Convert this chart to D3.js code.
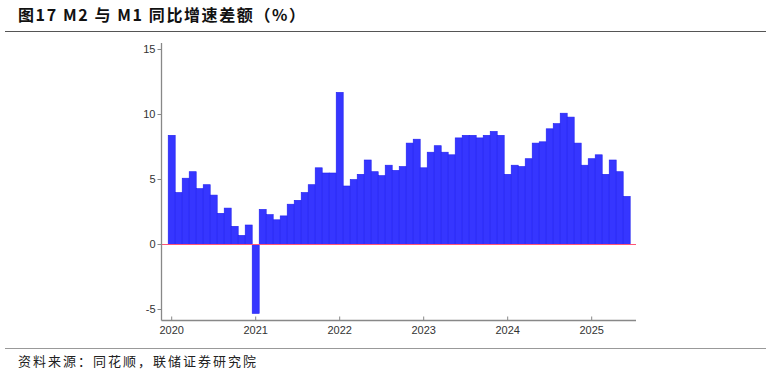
<!DOCTYPE html>
<html>
<head>
<meta charset="utf-8">
<script src="https://cdn.jsdelivr.net/npm/d3@7/dist/d3.min.js"></script>
<style>
    body { margin: 0; background: #fff; }
    svg { display: block; }
    .title { font-family: "Noto Sans CJK SC", sans-serif; font-weight: bold; font-size: 16px; letter-spacing: 1.6px; fill: #111; }
    .source { font-family: "Noto Sans CJK SC", sans-serif; font-size: 13px; letter-spacing: 2px; fill: #222; }
    .tick-label { font-family: "Liberation Sans", Arial, sans-serif; font-size: 11px; fill: #333; }
</style>
</head>
<body>
<svg id="chart" width="771" height="375"></svg>
<script>
// monthly spread M2 yoy minus M1 yoy, 2020-01 .. 2025-06
var years = [2020, 2021, 2022, 2023, 2024, 2025];
var spread = [
    8.4, 4.0, 5.1, 5.6, 4.3, 4.6, 3.8, 2.4, 2.8, 1.4, 0.7, 1.5,
    -5.3, 2.7, 2.3, 1.9, 2.2, 3.1, 3.4, 4.0, 4.6, 5.9, 5.5, 5.5,
    11.7, 4.5, 5.0, 5.4, 6.5, 5.6, 5.3, 6.1, 5.7, 6.0, 7.8, 8.1,
    5.9, 7.1, 7.6, 7.1, 6.9, 8.2, 8.4, 8.4, 8.2, 8.4, 8.7, 8.4,
    5.4, 6.1, 6.0, 6.6, 7.8, 7.9, 8.9, 9.3, 10.1, 9.8, 7.8, 6.1,
    6.6, 6.9, 5.4, 6.5, 5.6, 3.7
];
var yTicks = [-5, 0, 5, 10, 15];

var months = spread.map(function (v, i) {
    var yr = years[0] + Math.floor(i / 12);
    return { key: yr + "-" + (i % 12 + 1), value: v };
});

var svg = d3.select("#chart");

// header / footer
svg.append("text").attr("class", "title").attr("x", 18).attr("y", 21).text("图17 M2 与 M1 同比增速差额（%）");
svg.append("line").attr("x1", 5).attr("x2", 766).attr("y1", 31.5).attr("y2", 31.5)
    .attr("stroke", "#555").attr("stroke-width", 1);
svg.append("line").attr("x1", 5).attr("x2", 766).attr("y1", 348.5).attr("y2", 348.5)
    .attr("stroke", "#999").attr("stroke-width", 1);
svg.append("text").attr("class", "source").attr("x", 18).attr("y", 366).text("资料来源：同花顺，联储证券研究院");

var x = d3.scaleBand()
    .domain(months.map(function (d) { return d.key; }))
    .range([168.2, 630.2])
    .padding(0);
var y = d3.scaleLinear().domain([-5, 15]).range([309.5, 49.5]);

var axisLeft = 161.5, axisBottom = 320.5, axisRight = 636;

// bars
svg.append("g").selectAll("rect")
    .data(months)
    .enter().append("rect")
    .attr("x", function (d) { return x(d.key); })
    .attr("width", x.bandwidth())
    .attr("y", function (d) { return y(Math.max(0, d.value)); })
    .attr("height", function (d) { return Math.abs(y(d.value) - y(0)); })
    .attr("fill", "#3636ff")
    .attr("stroke", "#1e1ef0")
    .attr("stroke-width", 0.6);

// zero line
svg.append("line")
    .attr("x1", axisLeft).attr("x2", axisRight)
    .attr("y1", y(0)).attr("y2", y(0))
    .attr("stroke", "#ff5577").attr("stroke-width", 1);

// axes
var axisColor = "#888";
svg.append("line").attr("x1", axisLeft).attr("x2", axisLeft)
    .attr("y1", 43).attr("y2", axisBottom).attr("stroke", axisColor).attr("stroke-width", 1.3);
svg.append("line").attr("x1", axisLeft).attr("x2", axisRight)
    .attr("y1", axisBottom).attr("y2", axisBottom).attr("stroke", axisColor).attr("stroke-width", 1.3);

var yt = svg.append("g").selectAll("g").data(yTicks).enter().append("g");
yt.append("line")
    .attr("x1", axisLeft - 4).attr("x2", axisLeft)
    .attr("y1", function (d) { return y(d); }).attr("y2", function (d) { return y(d); })
    .attr("stroke", axisColor);
yt.append("text")
    .attr("class", "tick-label")
    .attr("x", axisLeft - 6)
    .attr("y", function (d) { return y(d); })
    .attr("dy", "0.35em")
    .attr("text-anchor", "end")
    .text(function (d) { return d; });

function yearX(yr) { return x(yr + "-1") + x.bandwidth() / 2; }

var xt = svg.append("g").selectAll("g").data(years).enter().append("g");
xt.append("line")
    .attr("x1", yearX).attr("x2", yearX)
    .attr("y1", axisBottom - 4).attr("y2", axisBottom)
    .attr("stroke", axisColor);
xt.append("text")
    .attr("class", "tick-label")
    .attr("x", yearX)
    .attr("y", axisBottom + 13)
    .attr("text-anchor", "middle")
    .text(function (d) { return d; });
</script>
</body>
</html>
